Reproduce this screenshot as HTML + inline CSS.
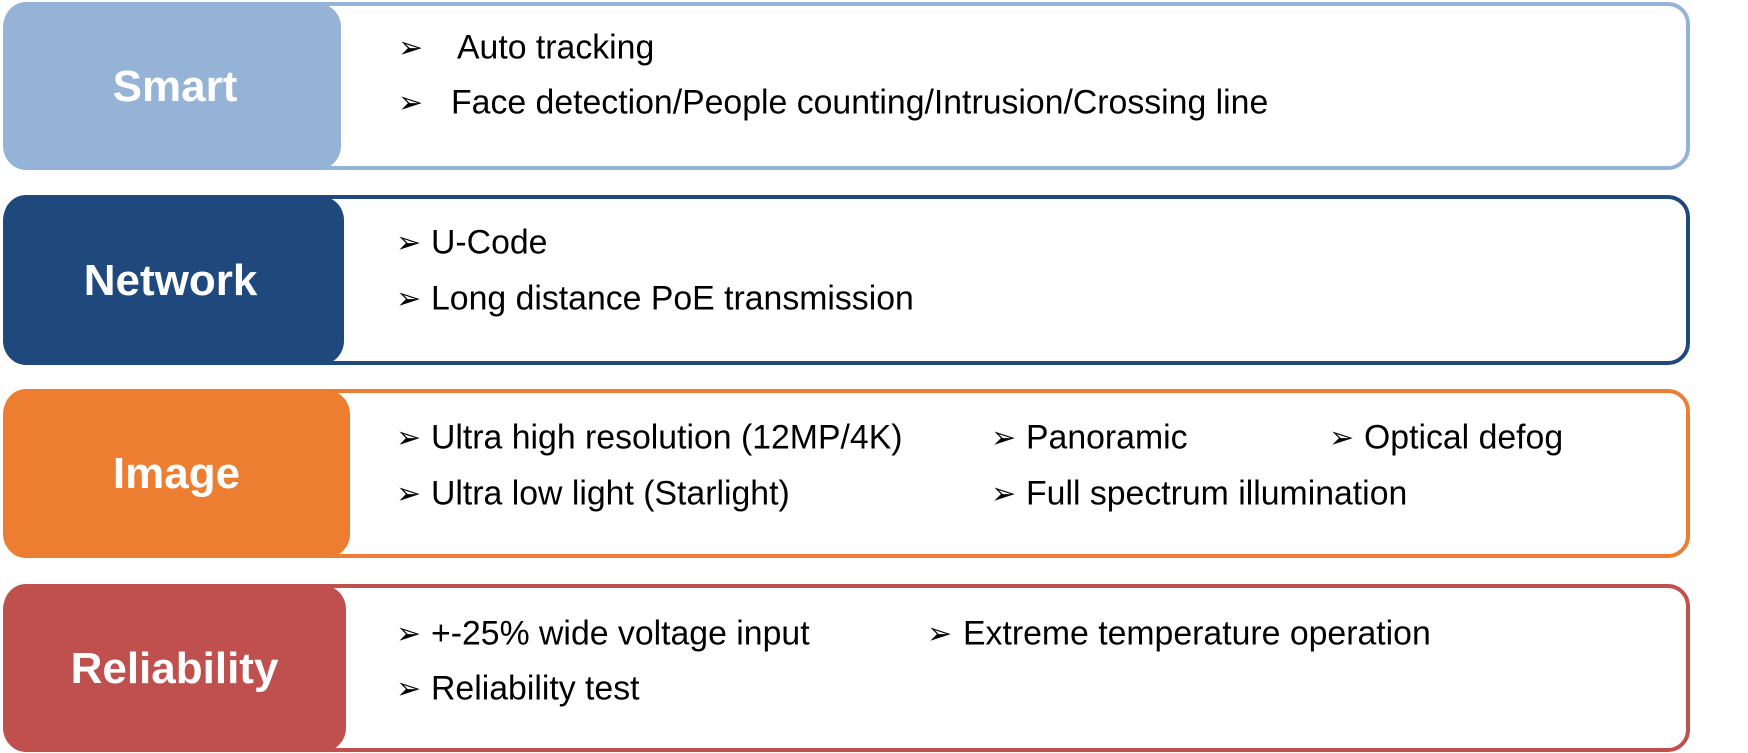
<!DOCTYPE html>
<html><head><meta charset="utf-8"><style>
body{margin:0;width:1748px;height:753px;background:#fff;position:relative;overflow:hidden;font-family:"Liberation Sans",Arial,sans-serif}
.box{position:absolute;left:4px;width:1686px;border:4px solid;border-radius:22px;box-sizing:border-box;background:#fff}
.lab{position:absolute;left:3px;border-radius:24px;color:#fff;font-weight:bold;font-size:44px;display:flex;align-items:center;justify-content:center;box-sizing:border-box}
.it{position:absolute;font-size:33.8px;color:#000;white-space:nowrap;transform:translateY(-50%)}
.ar{position:absolute;font-family:"DejaVu Sans",sans-serif;font-size:30px;transform:translateY(-50%)}
</style></head><body>
<div class="box" style="top:2px;height:168px;border-color:#95b3d7"></div>
<div class="lab" style="top:3px;height:167px;width:338px;background:#95b3d7;padding-left:6px">Smart</div>
<div class="box" style="top:195px;height:170px;border-color:#1f497d"></div>
<div class="lab" style="top:196px;height:169px;width:341px;background:#1f497d;padding-right:6px">Network</div>
<div class="box" style="top:389px;height:169px;border-color:#ed7d31"></div>
<div class="lab" style="top:390px;height:168px;width:347px;background:#ed7d31">Image</div>
<div class="box" style="top:584px;height:168px;border-color:#c0504d"></div>
<div class="lab" style="top:585px;height:167px;width:343px;background:#c0504d">Reliability</div>

<span class="ar" style="left:398px;top:48px">➢</span><span class="it" style="left:457px;top:48px">Auto tracking</span>
<span class="ar" style="left:398px;top:103px">➢</span><span class="it" style="left:451px;top:103px">Face detection/People counting/Intrusion/Crossing line</span>

<span class="ar" style="left:396px;top:243px">➢</span><span class="it" style="left:431px;top:243px">U-Code</span>
<span class="ar" style="left:396px;top:299px">➢</span><span class="it" style="left:431px;top:299px">Long distance PoE transmission</span>

<span class="ar" style="left:396px;top:438px">➢</span><span class="it" style="left:431px;top:438px">Ultra high resolution (12MP/4K)</span>
<span class="ar" style="left:991px;top:438px">➢</span><span class="it" style="left:1026px;top:438px">Panoramic</span>
<span class="ar" style="left:1329px;top:438px">➢</span><span class="it" style="left:1364px;top:438px">Optical defog</span>
<span class="ar" style="left:396px;top:494px">➢</span><span class="it" style="left:431px;top:494px">Ultra low light (Starlight)</span>
<span class="ar" style="left:991px;top:494px">➢</span><span class="it" style="left:1026px;top:494px">Full spectrum illumination</span>

<span class="ar" style="left:396px;top:634px">➢</span><span class="it" style="left:431px;top:634px">+-25% wide voltage input</span>
<span class="ar" style="left:927px;top:634px">➢</span><span class="it" style="left:963px;top:634px">Extreme temperature operation</span>
<span class="ar" style="left:396px;top:689px">➢</span><span class="it" style="left:431px;top:689px">Reliability test</span>
</body></html>
